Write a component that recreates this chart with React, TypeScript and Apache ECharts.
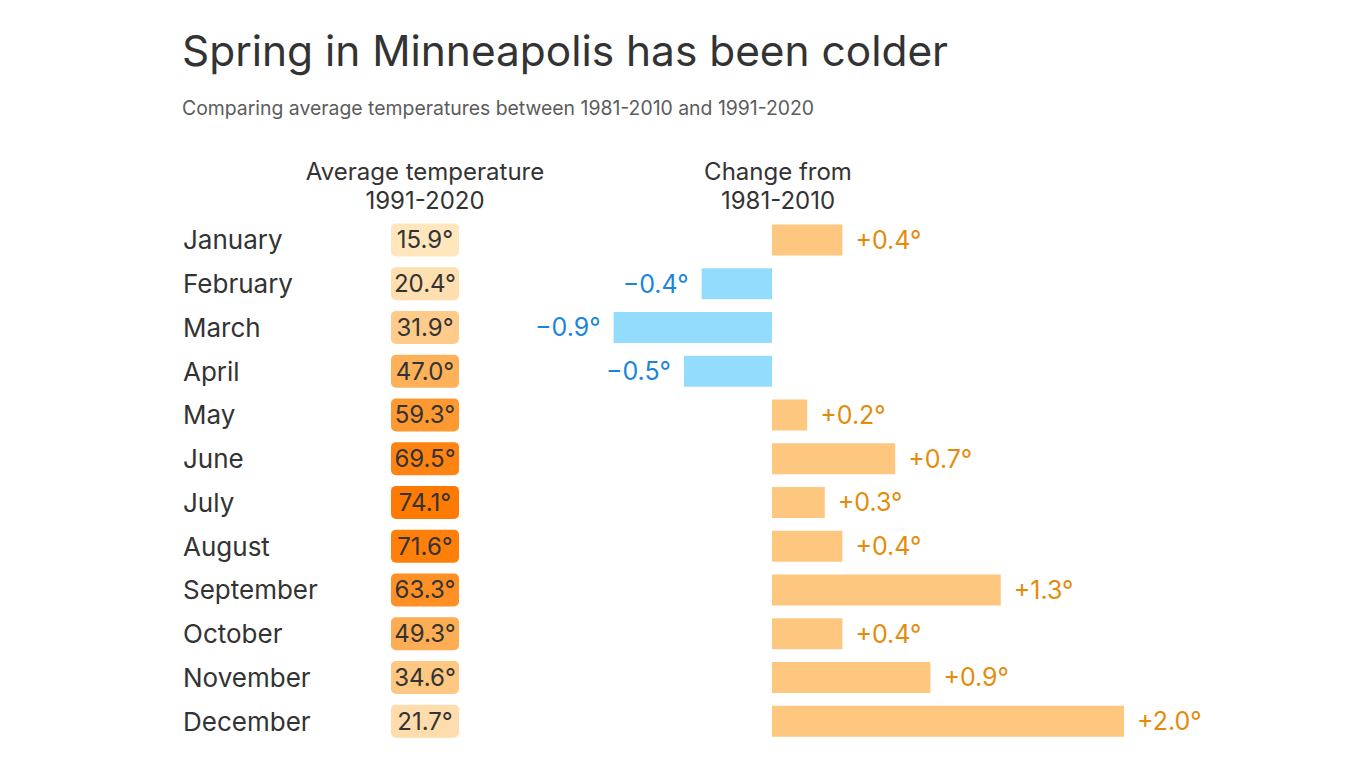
import React, { useEffect, useRef } from "react";
import * as echarts from "echarts";

const months = [
  "January", "February", "March", "April", "May", "June",
  "July", "August", "September", "October", "November", "December",
];
const avgTemps = [15.9, 20.4, 31.9, 47.0, 59.3, 69.5, 74.1, 71.6, 63.3, 49.3, 34.6, 21.7];
const changes = [0.4, -0.4, -0.9, -0.5, 0.2, 0.7, 0.3, 0.4, 1.3, 0.4, 0.9, 2.0];

const titleText = "Spring in Minneapolis has been colder";
const subtitleText = "Comparing average temperatures between 1981-2010 and 1991-2020";
const header1 = ["Average temperature", "1991-2020"];
const header2 = ["Change from", "1981-2010"];

const FONT = "Inter, 'Noto Sans', sans-serif";
const TEXT = "#333333";

const colorStops: [number, number[]][] = [
  [15, [255, 231, 192]],
  [47, [253, 178, 90]],
  [75, [255, 120, 0]],
];
function tempColor(t: number): string {
  let i = 0;
  while (i < colorStops.length - 2 && t > colorStops[i + 1][0]) i++;
  const [t0, c0] = colorStops[i];
  const [t1, c1] = colorStops[i + 1];
  const f = Math.max(0, Math.min(1, (t - t0) / (t1 - t0)));
  const c = c0.map((v, k) => Math.round(v + (c1[k] - v) * f));
  return `rgb(${c[0]},${c[1]},${c[2]})`;
}

function fmtChange(v: number): string {
  return (v >= 0 ? "+" : "\u2212") + Math.abs(v).toFixed(1) + "°";
}

export default function App() {
  const ref = useRef<HTMLDivElement>(null);
  useEffect(() => {
    if (!ref.current) return;
    const chart = echarts.init(ref.current, null, { renderer: "svg" });
    const gridTop = 218;
    const gridBottom = 25;
    const headerStyle = (text: string) => ({
      text,
      fontSize: 24,
      fontFamily: FONT,
      fill: TEXT,
      verticalAlign: "middle",
      align: "center",
    });
    const option: any = {
      animation: false,
      backgroundColor: "#ffffff",
      textStyle: { fontFamily: FONT },
      grid: [
        { left: 391, right: 1366 - 459, top: gridTop, bottom: gridBottom },
        { left: 596, right: 171.6, top: gridTop, bottom: gridBottom },
      ],
      xAxis: [
        { type: "value", gridIndex: 0, min: 0, max: 1, show: false },
        { type: "value", gridIndex: 1, min: -1, max: 2.4, show: false },
      ],
      yAxis: [
        {
          type: "category",
          gridIndex: 0,
          data: months,
          inverse: true,
          axisLine: { show: false },
          axisTick: { show: false },
          splitLine: { show: false },
          axisLabel: {
            align: "left",
            margin: 391 - 183,
            fontSize: 26,
            color: TEXT,
            fontFamily: FONT,
          },
        },
        {
          type: "category",
          gridIndex: 1,
          data: months,
          inverse: true,
          axisLine: { show: false, onZero: false },
          axisTick: { show: false },
          splitLine: { show: false },
          axisLabel: { show: false },
        },
      ],
      series: [
        {
          type: "bar",
          xAxisIndex: 0,
          yAxisIndex: 0,
          barWidth: 33,
          data: avgTemps.map((t) => ({
            value: 1,
            itemStyle: { color: tempColor(t), borderRadius: 5 },
            label: { formatter: t.toFixed(1) + "°" },
          })),
          label: {
            show: true,
            position: "inside",
            fontSize: 24,
            color: TEXT,
            fontFamily: FONT,
          },
          silent: true,
        },
        {
          type: "bar",
          xAxisIndex: 1,
          yAxisIndex: 1,
          barWidth: 31,
          data: changes.map((v) => ({
            value: v,
            itemStyle: { color: v < 0 ? "#94dcfd" : "#fec77f" },
            label: {
              position: v < 0 ? "left" : "right",
              color: v < 0 ? "#1a85dd" : "#e38c0c",
              formatter: fmtChange(v),
            },
          })),
          label: {
            show: true,
            distance: 13,
            fontSize: 25,
            fontFamily: FONT,
          },
          silent: true,
        },
      ],
      graphic: [
        {
          type: "text",
          x: 182,
          y: 50,
          style: {
            text: titleText,
            fontSize: 42.4,
            fontFamily: FONT,
            fill: TEXT,
            verticalAlign: "middle",
            align: "left",
          },
        },
        {
          type: "text",
          x: 182,
          y: 108,
          style: {
            text: subtitleText,
            fontSize: 19.4,
            fontFamily: FONT,
            fill: "#5c5c5c",
            verticalAlign: "middle",
            align: "left",
          },
        },
        { type: "text", x: 425, y: 171, style: headerStyle(header1[0]) },
        { type: "text", x: 425, y: 200, style: headerStyle(header1[1]) },
        { type: "text", x: 778, y: 171, style: headerStyle(header2[0]) },
        { type: "text", x: 778, y: 200, style: headerStyle(header2[1]) },
      ],
    };
    chart.setOption(option);
    return () => chart.dispose();
  }, []);
  return (
    <div
      ref={ref}
      style={{ position: "fixed", left: 0, top: 0, width: 1366, height: 768 }}
    />
  );
}
